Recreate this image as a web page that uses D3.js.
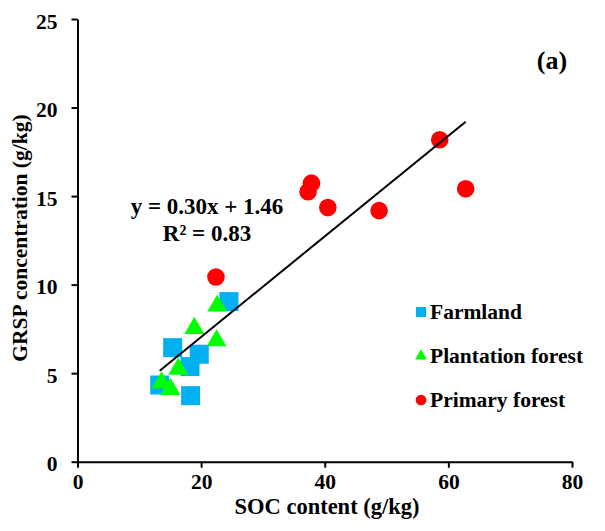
<!DOCTYPE html>
<html>
<head>
<meta charset="utf-8">
<script src="https://cdn.jsdelivr.net/npm/d3@7"></script>
<style>
  html, body { margin: 0; padding: 0; background: #fff; }
  svg text { font-family: "Liberation Serif", "Times New Roman", serif; font-weight: bold; fill: #000; }
</style>
</head>
<body>
<div id="chart"></div>
<script>
const WIDTH = 605;
const HEIGHT = 531;

// SOC (x) and GRSP (y)
const farmlandSoc = [24.5, 15.4, 19.7, 18.2, 13.3, 18.3];
const farmlandGrsp = [9.04, 6.44, 6.07, 5.37, 4.33, 3.73];
const plantationSoc = [22.6, 18.9, 22.5, 16.3, 13.6, 15.05];
const plantationGrsp = [8.8, 7.54, 6.84, 5.24, 4.46, 4.09];
const primarySoc = [22.4, 37.85, 37.3, 40.5, 48.8, 58.6, 62.8];
const primaryGrsp = [10.43, 15.73, 15.25, 14.35, 14.18, 18.18, 15.41];

const xTicks = [0, 20, 40, 60, 80];
const yTicks = [0, 5, 10, 15, 20, 25];
const equationLines = ["y = 0.30x + 1.46", "R² = 0.83"];

const series = [
  { name: "Farmland", shape: "square", color: "#00b0f0", xs: farmlandSoc, ys: farmlandGrsp },
  { name: "Plantation forest", shape: "triangle", color: "#00ff00", xs: plantationSoc, ys: plantationGrsp },
  { name: "Primary forest", shape: "circle", color: "#ff0000", xs: primarySoc, ys: primaryGrsp }
];

const margin = { top: 19, right: 33, bottom: 69.3, left: 77.5 };
const innerW = WIDTH - margin.left - margin.right;
const innerH = HEIGHT - margin.top - margin.bottom;

const x = d3.scaleLinear().domain([0, 80]).range([0, innerW]);
const y = d3.scaleLinear().domain([0, 25]).range([innerH, 0]);

const svg = d3.select("#chart")
  .append("svg")
  .attr("width", WIDTH)
  .attr("height", HEIGHT);

const g = svg.append("g").attr("transform", `translate(${margin.left},${margin.top})`);

// axes
const yAxis = g.append("g")
  .call(d3.axisLeft(y).tickValues(yTicks).tickSize(6).tickPadding(14).tickSizeOuter(0));
const xAxis = g.append("g")
  .attr("transform", `translate(0,${innerH})`)
  .call(d3.axisBottom(x).tickValues(xTicks).tickSize(6).tickPadding(6).tickSizeOuter(0));

[xAxis, yAxis].forEach((ax) => {
  ax.select(".domain").attr("stroke", "#000").attr("stroke-width", 2);
  ax.selectAll(".tick line").attr("stroke", "#000").attr("stroke-width", 2);
  ax.selectAll(".tick text").attr("font-size", 21.5).attr("font-family", null);
});
yAxis.selectAll(".tick text").attr("dy", "0.42em");

// points
const symbolFor = {
  square: d3.symbol().type(d3.symbolSquare).size(19 * 19),
  triangle: d3.symbol().type(d3.symbolTriangle).size(170),
  circle: d3.symbol().type(d3.symbolCircle).size(Math.PI * 8.8 * 8.8)
};

series.forEach((s) => {
  const pts = s.xs.map((v, i) => ({ x: v, y: s.ys[i] }));
  g.append("g")
    .selectAll("path")
    .data(pts)
    .join("path")
    .attr("d", symbolFor[s.shape]())
    .attr("transform", (d) => `translate(${x(d.x)},${y(d.y)})`)
    .attr("fill", s.color);
});

// least squares fit over all points
const allX = series.flatMap((s) => s.xs);
const allY = series.flatMap((s) => s.ys);
const mx = d3.mean(allX);
const my = d3.mean(allY);
const slope = d3.sum(allX, (v, i) => (v - mx) * (allY[i] - my)) / d3.sum(allX, (v) => (v - mx) ** 2);
const intercept = my - slope * mx;
const [x0, x1] = d3.extent(allX);

g.append("line")
  .attr("x1", x(x0))
  .attr("y1", y(intercept + slope * x0))
  .attr("x2", x(x1))
  .attr("y2", y(intercept + slope * x1))
  .attr("stroke", "#000")
  .attr("stroke-width", 2);

// equation
const eq = svg.append("text")
  .attr("text-anchor", "middle")
  .attr("font-size", 23);
eq.selectAll("tspan")
  .data(equationLines)
  .join("tspan")
  .attr("x", 207)
  .attr("y", (d, i) => 214 + i * 27)
  .text((d) => d);

svg.append("text")
  .attr("x", 552)
  .attr("y", 69)
  .attr("text-anchor", "middle")
  .attr("font-size", 26)
  .text("(a)");

// legend
const legend = svg.append("g").attr("transform", "translate(421,312)");
const rows = legend.selectAll("g")
  .data(series)
  .join("g")
  .attr("transform", (d, i) => `translate(0,${i * 44})`);
rows.append("path")
  .attr("d", (d) => d3.symbol().type(
    d.shape === "square" ? d3.symbolSquare : d.shape === "triangle" ? d3.symbolTriangle : d3.symbolCircle
  ).size(d.shape === "square" ? 100 : d.shape === "triangle" ? 60 : 90)())
  .attr("fill", (d) => d.color);
rows.append("text")
  .attr("x", 9)
  .attr("y", 7)
  .attr("font-size", 21.5)
  .text((d) => d.name);

// axis titles
svg.append("text")
  .attr("x", 327)
  .attr("y", 514)
  .attr("text-anchor", "middle")
  .attr("font-size", 22.5)
  .text("SOC content (g/kg)");

svg.append("text")
  .attr("transform", "translate(27,238) rotate(-90)")
  .attr("text-anchor", "middle")
  .attr("font-size", 21.5)
  .text("GRSP concentration (g/kg)");
</script>
</body>
</html>
